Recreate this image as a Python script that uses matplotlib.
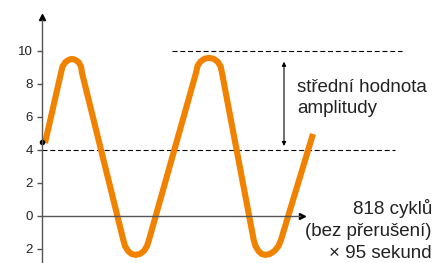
import matplotlib
matplotlib.use("Agg")
import matplotlib.pyplot as plt

plt.rcParams["font.family"] = ["Liberation Sans", "DejaVu Sans"]

# waveform (time in arbitrary units, value)
t = [45,
     61, 62.5, 65.5, 69, 72, 75, 78.5, 81, 82,
     123.3, 125, 128, 131.5, 135.5, 140, 144, 147, 149,
     196, 197.5, 200.5, 204.5, 209, 213.5, 217.5, 220.5, 222,
     253.7, 255.5, 258.5, 261.5, 265.5, 270, 274.5, 278.5, 281,
     313]
v = [4.42,
     8.67, 9.06, 9.33, 9.47, 9.52, 9.47, 9.33, 9.06, 8.67,
     -1.45, -1.82, -2.12, -2.30, -2.36, -2.30, -2.12, -1.82, -1.45,
     8.67, 9.09, 9.36, 9.53, 9.58, 9.53, 9.36, 9.09, 8.67,
     -1.45, -1.82, -2.12, -2.30, -2.36, -2.30, -2.12, -1.82, -1.45,
     4.97]

yticks = [10, 8, 6, 4, 2, 0, -2]
ytick_labels = ["10", "8", "6", "4", "2", "0", "2"]

mean_level = 4
amp_level = 10
start_value = 4.48

fig = plt.figure(figsize=(4.35, 2.63), dpi=100)
ax = fig.add_axes([0, 0, 1, 1])
ax.set_xlim(0, 435)
ax.set_ylim(-2.85, 13.09)

axis_col = "#555555"

# axes
for side in ["top", "right"]:
    ax.spines[side].set_visible(False)
ax.spines["left"].set_position(("data", 42))
ax.spines["left"].set_bounds(-2.85, 11.9)
ax.spines["bottom"].set_position(("data", 0))
ax.spines["bottom"].set_bounds(42, 300)
for side in ["left", "bottom"]:
    ax.spines[side].set_color(axis_col)
    ax.spines[side].set_linewidth(1.0)
ax.plot(42, 12.05, marker="^", color="black", markersize=4, clip_on=False)
ax.plot(302, 0, marker=">", color="black", markersize=4, clip_on=False)

ax.set_yticks(yticks)
ax.set_yticklabels(ytick_labels)
ax.set_xticks([])
ax.tick_params(axis="y", direction="out", length=3.6, width=1.0,
               color=axis_col, pad=3, labelsize=9.5, labelcolor="#222222")

# dashed reference lines
ax.plot([42, 395], [mean_level, mean_level], color="black", lw=0.8,
        dashes=(4.5, 2.5))
ax.plot([172, 402], [amp_level, amp_level], color="black", lw=0.8,
        dashes=(4.5, 2.5))

# waveform
ax.plot(t, v, color="#F08200", lw=4.4, solid_joinstyle="round",
        solid_capstyle="butt")
ax.plot(42, start_value, marker="o", color="black", markersize=3)

# amplitude arrow
ax.annotate("", xy=(284, 9.35), xytext=(284, 4.24),
            arrowprops=dict(arrowstyle="<|-|>", color="black", lw=0.8,
                            mutation_scale=6, shrinkA=0, shrinkB=0))
ax.text(297, 7.15, "střední hodnota\namplitudy", ha="left", va="center",
        fontsize=13.5, color="#222222", linespacing=1.35)

ax.text(432, -0.88, "818 cyklů\n(bez přerušení)\n× 95 sekund", ha="right",
        va="center", multialignment="right", fontsize=13.5, color="#222222",
        linespacing=1.35)

fig.savefig("out.png", dpi=100)
